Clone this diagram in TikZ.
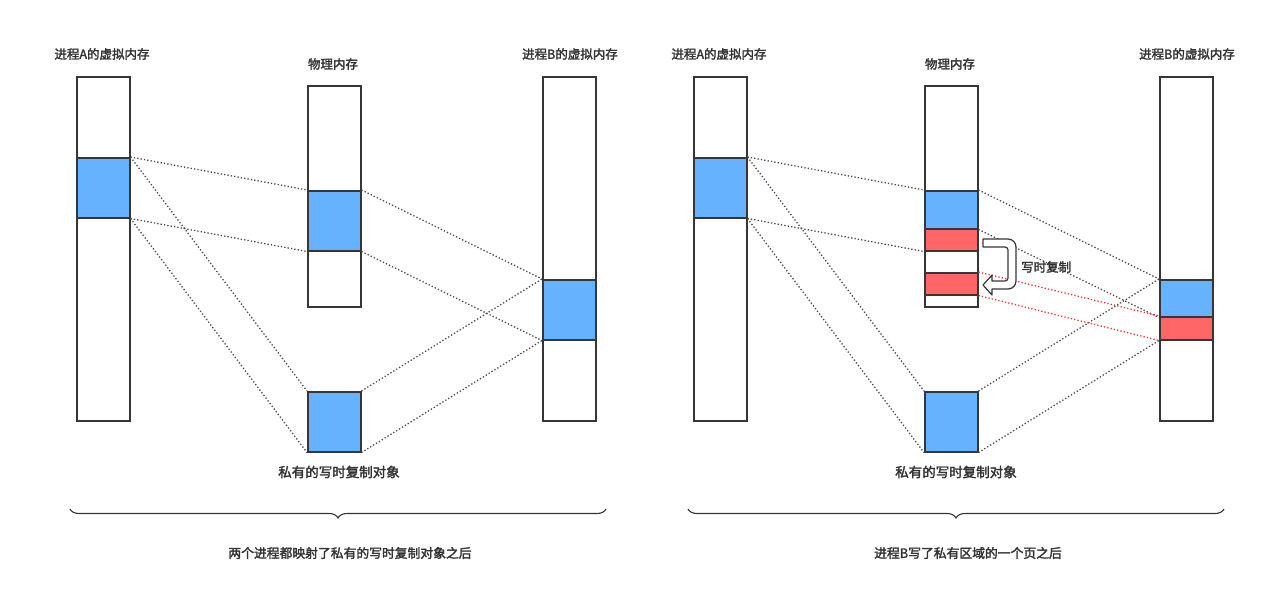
\documentclass[tikz,border=0pt]{standalone}
\usepackage{fontspec}
\newfontfamily\cjk{Noto Sans CJK SC}[FakeBold=2.2]
\usetikzlibrary{decorations.pathreplacing}
\definecolor{blk}{HTML}{66B2FF}
\definecolor{rblk}{HTML}{FF6666}
\definecolor{edge}{HTML}{363636}
\definecolor{dotc}{HTML}{4A4A4A}
\definecolor{txt}{HTML}{333333}
\definecolor{rdot}{HTML}{E83A3A}
\tikzset{
  col/.style={draw=edge,line width=1.5pt,fill=white},
  bluebox/.style={draw=edge,line width=1.5pt,fill=blk},
  redbox/.style={draw=edge,line width=1.5pt,fill=rblk},
  map/.style={draw=dotc,line width=1.3pt,dash pattern=on 1.3pt off 2.1pt},
  rmap/.style={draw=rdot,line width=1.3pt,dash pattern=on 1.3pt off 2.1pt},
  lbl/.style={text=txt,font=\cjk\fontsize{12.5}{14}\selectfont,inner sep=0pt},
  lblo/.style={lbl,font=\cjk\fontsize{13.5}{15}\selectfont},
  lblb/.style={lbl,font=\cjk\fontsize{12.8}{15}\selectfont},
  brc/.style={draw=edge,line width=1.1pt,decorate,decoration={brace,amplitude=9pt}},
}
\begin{document}
\begin{tikzpicture}[x=1pt,y=-1pt]
\useasboundingbox (0,0) rectangle (1280,590);
% ================= LEFT =================
\node[col,minimum width=53,minimum height=344,inner sep=0,anchor=north west] (La) at (76,76) {};
\node[bluebox,minimum width=53,minimum height=60,inner sep=0,anchor=north west] (Lab) at (76,157) {};
\node[col,minimum width=53,minimum height=221,inner sep=0,anchor=north west] (Lp) at (307,85) {};
\node[bluebox,minimum width=53,minimum height=60,inner sep=0,anchor=north west] (Lpb) at (307,190) {};
\node[bluebox,minimum width=53,minimum height=60,inner sep=0,anchor=north west] (Lo) at (307,391) {};
\node[col,minimum width=53,minimum height=344,inner sep=0,anchor=north west] (Lb) at (542,76) {};
\node[bluebox,minimum width=53,minimum height=60,inner sep=0,anchor=north west] (Lbb) at (542,279) {};
\node[lbl] (tLa) at (102,54) {进程A的虚拟内存};
\node[lbl] (tLp) at (333,64) {物理内存};
\node[lbl] (tLb) at (570,54) {进程B的虚拟内存};
\node[lblo] (tLo) at (339,472) {私有的写时复制对象};
\draw[map] (Lab.north east) -- (Lpb.north west);
\draw[map] (Lab.south east) -- (Lpb.south west);
\draw[map] (Lab.north east) -- (Lo.north west);
\draw[map] (Lab.south east) -- (Lo.south west);
\draw[map] (Lpb.north east) -- (Lbb.north west);
\draw[map] (Lpb.south east) -- (Lbb.south west);
\draw[map] (Lo.north east) -- (Lbb.north west);
\draw[map] (Lo.south east) -- (Lbb.south west);
\coordinate (Lbr1) at (606,509);
\coordinate (Lbr2) at (70,509);
\draw[brc] (Lbr1) -- (Lbr2);
\node[lblb] (tL) at (350,553) {两个进程都映射了私有的写时复制对象之后};
% ================= RIGHT =================
\node[col,minimum width=53,minimum height=344,inner sep=0,anchor=north west] (Ra) at (693,76) {};
\node[bluebox,minimum width=53,minimum height=60,inner sep=0,anchor=north west] (Rab) at (693,157) {};
\node[col,minimum width=53,minimum height=221,inner sep=0,anchor=north west] (Rp) at (924,85) {};
\node[bluebox,minimum width=53,minimum height=38,inner sep=0,anchor=north west] (Rpb) at (924,190) {};
\node[redbox,minimum width=53,minimum height=22,inner sep=0,anchor=north west] (Rpr) at (924,228) {};
\node[col,minimum width=53,minimum height=22,inner sep=0,anchor=north west] (Rpw) at (924,250) {};
\node[redbox,minimum width=53,minimum height=22,inner sep=0,anchor=north west] (Rpc) at (924,272) {};
\node[bluebox,minimum width=53,minimum height=60,inner sep=0,anchor=north west] (Ro) at (924,391) {};
\node[col,minimum width=53,minimum height=344,inner sep=0,anchor=north west] (Rb) at (1159,76) {};
\node[bluebox,minimum width=53,minimum height=37,inner sep=0,anchor=north west] (Rbb) at (1159,279) {};
\node[redbox,minimum width=53,minimum height=23,inner sep=0,anchor=north west] (Rbr) at (1159,316) {};
\node[lbl] (tRa) at (719,54) {进程A的虚拟内存};
\node[lbl] (tRp) at (950,64) {物理内存};
\node[lbl] (tRb) at (1187,54) {进程B的虚拟内存};
\node[lblo] (tRo) at (956,472) {私有的写时复制对象};
\draw[map] (Rab.north east) -- (Rpb.north west);
\draw[map] (Rab.south east) -- (Rpr.south west);
\draw[map] (Rab.north east) -- (Ro.north west);
\draw[map] (Rab.south east) -- (Ro.south west);
\draw[map] (Rpb.north east) -- (Rbb.north west);
\draw[map] (Rpb.south east) -- (Rbb.south west);
\draw[map] (Ro.north east) -- (Rbb.north west);
\draw[map] (Ro.south east) -- (Rbr.south west);
\draw[rmap] (Rpc.north east) -- (Rbr.north west);
\draw[rmap] (Rpc.south east) -- (Rbr.south west);
% copy arrow
\draw[draw=edge,line width=1.2pt,fill=white,line join=round]
  (983,239) [rounded corners=8pt] -- (1016,239) -- (1016,289) [sharp corners] -- (992,289) -- (992,295) -- (983,285) -- (992,275) -- (992,281)
  [rounded corners=3pt] -- (1008,281) -- (1008,247) [sharp corners] -- (983,247) -- cycle;
\node[lbl,anchor=west] (tcp) at (1021,267) {写时复制};
\coordinate (Rbr1) at (1224,509);
\coordinate (Rbr2) at (688,509);
\draw[brc] (Rbr1) -- (Rbr2);
\node[lblb] (tR) at (968,553) {进程B写了私有区域的一个页之后};
\end{tikzpicture}
\end{document}
